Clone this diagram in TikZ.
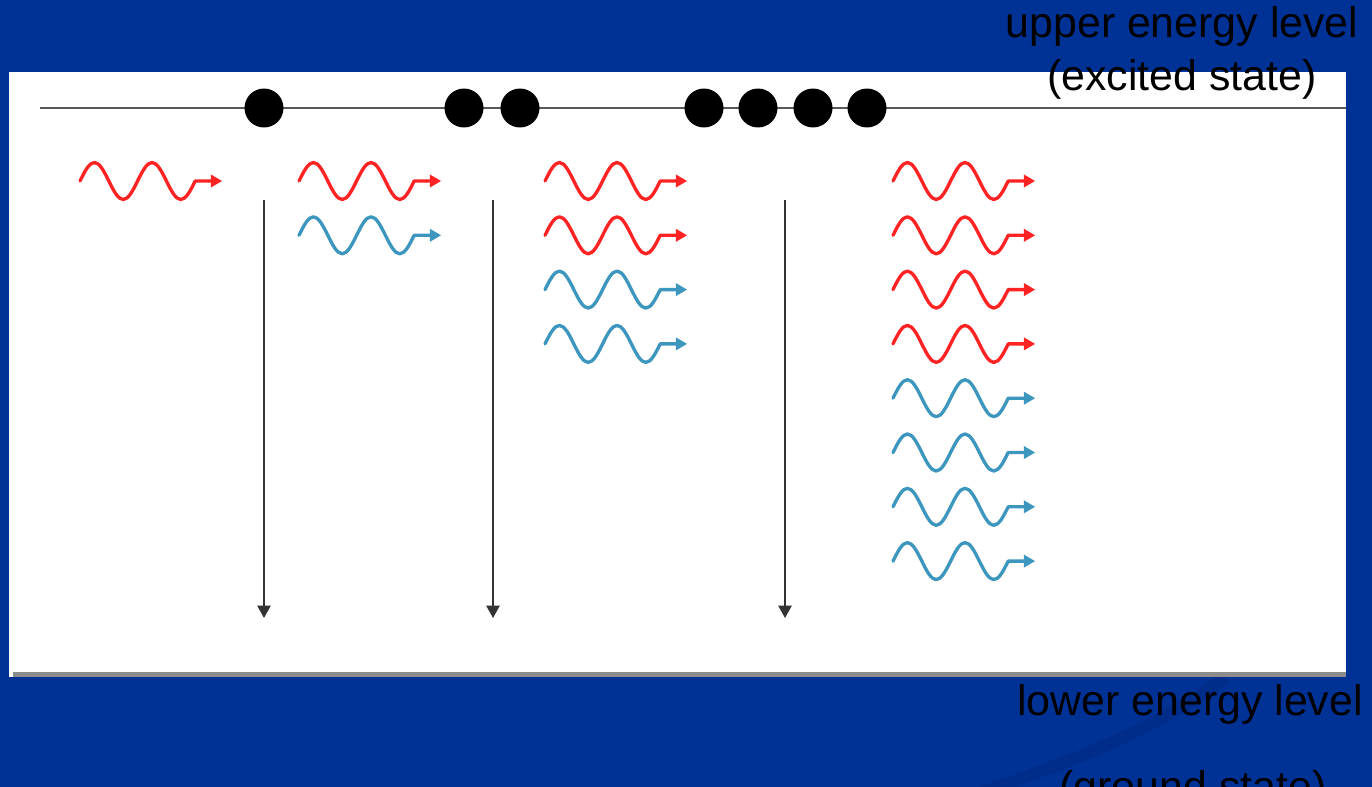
\documentclass[tikz,border=0pt]{standalone}
\usepackage{fontspec}
\setmainfont{Liberation Sans}
\usepackage{tikz}
\usetikzlibrary{arrows.meta, positioning}

\definecolor{slideblue}{RGB}{0,50,150}
\definecolor{swoosh}{RGB}{0,45,138}
\definecolor{photonred}{RGB}{255,35,35}
\definecolor{photonblue}{RGB}{60,150,190}

\tikzset{
  level/.style={line width=1.4pt, draw=black!65},
  atom/.style={circle, fill=black, inner sep=0pt, minimum size=0.78cm},
  decay/.style={line width=1.1pt, draw=black!80, -{Triangle[length=7pt, width=7.5pt]}},
  photon/.style={line width=1.9pt, line cap=round, line join=round, -{Triangle[length=6.5pt, width=7pt]}},
  caption/.style={font=\fontsize{24.4pt}{29pt}\selectfont, text=black, inner sep=0pt, anchor=base}
}

% one photon: x, y, colour
\newcommand{\photon}[3]{%
  \draw[photon, #3] (#1,#2) sin ++(14.4,-18.5) cos ++(14.4,18.5) sin ++(14.4,18.5) cos ++(14.4,-18.5)
    sin ++(14.4,-18.5) cos ++(14.4,18.5) sin ++(14.4,18.5) cos ++(14.4,-18.5) -- ++(27,0);}

\begin{document}
\begin{tikzpicture}[x=0.02cm, y=-0.02cm]
  \useasboundingbox (0,0) rectangle (1372,787);
  % Fond
  \fill[slideblue] (0,0) rectangle (1372,787);
  \draw[swoosh, line width=7pt] (1225,677) .. controls (1150,735) and (1060,765) .. (960,800);
  \fill[white] (9,72) rectangle (1346,677);
  \draw[black!45, line width=2.8pt] (13,674.5) -- (1346,674.5);

  % Niveau haut
  \coordinate (lvlL) at (40,108);
  \coordinate (lvlR) at (1346,108);
  \draw[level] (lvlL) -- (lvlR);
  \foreach \x [count=\i] in {264,464,520,704,758,813,867}
    \node[atom] (e\i) at (\x,108) {};

  % Transitions
  \foreach \x [count=\i] in {264,493,785} {
    \coordinate (top\i) at (\x,200);
    \coordinate (bot\i) at (\x,618);
    \draw[decay] (top\i) -- (bot\i);
  }

  % Photons
  \photon{80}{181}{photonred}
  \photon{299}{181}{photonred}
  \photon{299}{235.3}{photonblue}
  \foreach \i in {0,1} {
    \photon{545}{181+54.3*\i}{photonred}
    \photon{545}{289.6+54.3*\i}{photonblue}
  }
  \foreach \i in {0,...,3} {
    \photon{893}{181+54.3*\i}{photonred}
    \photon{893}{398.2+54.3*\i}{photonblue}
  }

  % Textes
  \node[caption] (upper) at (1182,38) {upper energy level};
  \node[caption] (excited) at (1182,91) {(excited state)};
  \node[caption] (lower) at (1190,715) {lower energy level};
  \node[caption] (ground) at (1193,801) {(ground state)};
\end{tikzpicture}
\end{document}
